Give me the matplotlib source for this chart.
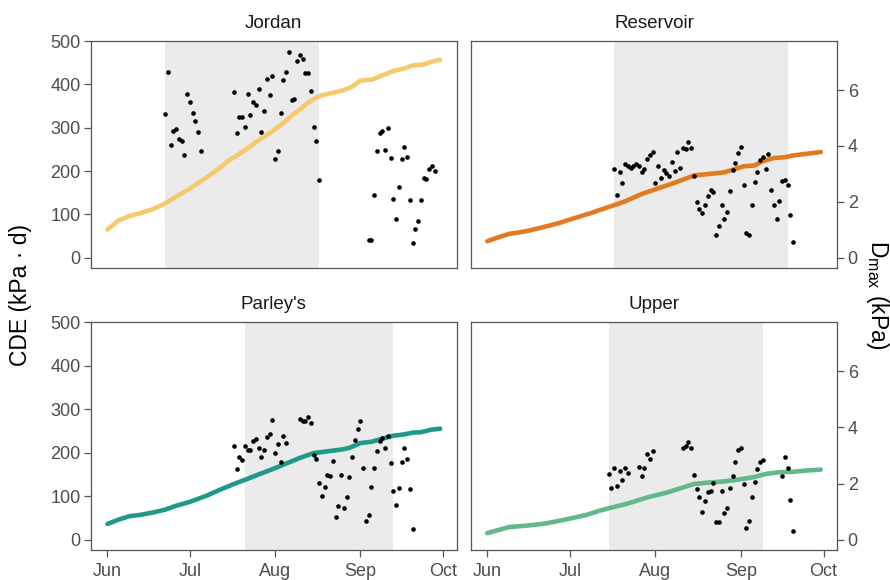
import numpy as np
import matplotlib
matplotlib.use("Agg")
import matplotlib.pyplot as plt
import matplotlib.dates as mdates

plt.rcParams['font.family'] = ['Liberation Sans', 'DejaVu Sans']
plt.rcParams['mathtext.fontset'] = 'custom'
plt.rcParams['mathtext.rm'] = 'Liberation Sans'
plt.rcParams['mathtext.it'] = 'Liberation Sans:italic'

START = np.datetime64('2017-06-01')
SCALE = 64.5  # CDE units per kPa on the secondary axis

sites = ["Jordan", "Reservoir", "Parley's", "Upper"]
line_colors = ["#F5C96C", "#E27A20", "#1E998A", "#62B88A"]

# shaded period (day offsets from Jun 1)
shade_start = [21, 46, 50, 44]
shade_end = [77, 109, 104, 100]

# cumulative CDE lines (day offset, kPa*d)
jordan_line_day = [0, 4, 8, 12, 16, 20, 24, 28, 32, 36, 40, 44, 48, 52, 56, 60, 64, 67, 70, 73, 76, 78, 82, 86, 89, 92, 96, 100, 104, 108, 111, 115, 118, 121]
jordan_line_cde = [65, 86, 96, 103, 111, 122, 137, 152, 168, 185, 203, 224, 240, 257, 276, 292, 311, 328, 342, 358, 370, 375, 381, 387, 395, 409, 411, 421, 431, 437, 444, 446, 453, 457]

reservoir_line_day = [0, 4, 8, 14, 20, 26, 32, 38, 44, 50, 56, 62, 68, 73, 75, 80, 86, 89, 93, 97, 100, 104, 108, 111, 116, 121]
reservoir_line_cde = [38, 47, 55, 61, 70, 80, 92, 104, 117, 130, 147, 160, 173, 185, 190, 193, 197, 203, 211, 213, 223, 230, 232, 236, 240, 244]

parleys_line_day = [0, 4, 8, 12, 17, 21, 25, 30, 36, 41, 46, 51, 55, 60, 65, 70, 75, 80, 85, 88, 92, 96, 100, 104, 108, 111, 114, 118, 121]
parleys_line_cde = [36, 46, 54, 57, 63, 69, 78, 87, 101, 115, 128, 140, 150, 162, 175, 188, 199, 203, 207, 211, 222, 225, 232, 239, 242, 246, 247, 253, 255]

upper_line_day = [0, 4, 8, 14, 21, 29, 36, 41, 44, 51, 58, 65, 72, 75, 80, 86, 90, 93, 97, 101, 106, 111, 116, 121]
upper_line_cde = [15, 22, 29, 32, 37, 47, 57, 67, 72, 83, 97, 108, 122, 128, 131, 134, 137, 140, 144, 151, 155, 156, 159, 161]

# daily maximum VPD points (day offset, kPa)
jordan_pt_day = list(range(21, 35)) + list(range(46, 78)) + list(range(95, 120))
jordan_pt_kpa = [5.13, 6.64, 4.02, 4.55, 4.59, 4.24, 4.19, 3.69, 5.85, 5.59, 5.19, 4.88, 4.51, 3.81,
                 5.92, 4.45, 5.02, 5.02, 4.67, 5.85, 5.10, 5.59, 5.47, 6.05, 4.50, 5.24, 6.39, 5.83, 6.50, 3.55,
                 3.83, 5.19, 6.37, 6.64, 7.37, 5.64, 5.67, 7.05, 7.27, 7.13, 6.60, 6.62, 5.95, 4.68, 4.17, 2.79,
                 0.62, 0.62, 2.23, 3.82, 4.48, 4.53, 3.84, 4.63, 3.56, 2.10, 1.39, 2.53, 3.53, 3.96, 3.61, 2.06,
                 0.53, 1.01, 1.33, 2.06, 2.84, 2.82, 3.17, 3.27, 3.11]

reservoir_pt_day = list(range(46, 112))
reservoir_pt_kpa = [3.18, 2.23, 3.06, 2.66, 3.35, 3.30, 3.21, 3.27, 3.36, 3.29, 3.07, 3.17, 3.54, 3.66, 3.79, 2.69,
                    3.29, 2.85, 3.13, 3.04, 2.92, 3.44, 3.09, 3.78, 3.21, 3.94, 3.89, 4.13, 3.92, 2.91, 1.99, 1.76,
                    1.59, 1.90, 2.22, 2.43, 2.35, 0.83, 1.13, 1.90, 1.40, 1.64, 2.37, 3.13, 3.40, 3.75, 3.95, 2.61,
                    0.89, 0.81, 1.88, 2.71, 3.06, 3.48, 3.61, 3.18, 3.70, 2.44, 1.89, 1.38, 2.04, 2.75, 2.78, 2.61,
                    1.54, 0.57]

parleys_pt_day = list(range(46, 66)) + list(range(70, 112))
parleys_pt_kpa = [3.32, 2.50, 2.96, 2.85, 3.35, 3.21, 3.21, 3.50, 3.59, 3.28, 2.95, 3.21, 3.67, 3.78, 4.28, 3.09,
                  3.42, 2.76, 3.71, 3.46,
                  4.29, 4.24, 4.24, 4.37, 4.14, 3.03, 2.87, 2.02, 1.55, 1.87, 2.32, 2.28, 2.79, 0.81, 1.19, 2.31,
                  1.14, 1.51, 2.22, 2.93, 3.54, 3.96, 4.23, 2.56, 0.66, 0.89, 1.87, 2.57, 3.15, 3.51, 3.63, 3.27,
                  3.71, 2.73, 1.74, 1.23, 1.83, 2.78, 3.26, 2.88, 1.81, 0.38]

upper_pt_day = list(range(44, 52)) + list(range(55, 61)) + list(range(71, 101)) + list(range(107, 112))
upper_pt_kpa = [2.35, 1.84, 2.56, 1.91, 2.44, 2.14, 2.54, 2.39,
                2.58, 2.27, 2.57, 3.06, 2.88, 3.15,
                3.26, 3.32, 3.49, 3.25, 2.31, 1.81, 1.51, 0.98, 1.36, 1.69, 1.75, 2.02, 0.62, 0.62, 1.75,
                0.95, 1.14, 1.83, 2.26, 2.75, 3.20, 3.26, 1.99, 0.42, 0.65, 1.51, 2.04, 2.51, 2.75, 2.84,
                2.28, 2.94, 2.56, 1.42, 0.30]

line_days = [jordan_line_day, reservoir_line_day, parleys_line_day, upper_line_day]
line_vals = [jordan_line_cde, reservoir_line_cde, parleys_line_cde, upper_line_cde]
pt_days = [jordan_pt_day, reservoir_pt_day, parleys_pt_day, upper_pt_day]
pt_vals = [jordan_pt_kpa, reservoir_pt_kpa, parleys_pt_kpa, upper_pt_kpa]

cde_ticks = [0, 100, 200, 300, 400, 500]
kpa_ticks = [0, 2, 4, 6]
month_ticks = ['2017-06-01', '2017-07-01', '2017-08-01', '2017-09-01', '2017-10-01']

YLIM = (-23.8, 501)
XLIM = (START - np.timedelta64(6, 'D'), START + np.timedelta64(127, 'D'))

W, H = 890, 580
fig = plt.figure(figsize=(W / 100, H / 100), dpi=100)

# panel rectangles in pixels: (left, top, right, bottom)
rects = [(91, 40.7, 456.7, 268), (470.7, 40.7, 837.3, 268),
         (91, 321.7, 456.7, 550), (470.7, 321.7, 837.3, 550)]

border = '#555555'
tickc = '#4D4D4D'

def to_dates(days):
    return START + np.array(days, dtype='timedelta64[D]')

for i, site in enumerate(sites):
    l, t, r, b = rects[i]
    ax = fig.add_axes([l / W, 1 - b / H, (r - l) / W, (b - t) / H])
    ax.axvspan(to_dates([shade_start[i]])[0], to_dates([shade_end[i]])[0],
               color='#EBEBEB', lw=0, zorder=0)
    ax.plot(to_dates(line_days[i]), line_vals[i], color=line_colors[i], lw=3.3,
            solid_capstyle='round', zorder=2)
    ax.set_xlim(*XLIM)
    ax.set_ylim(*YLIM)
    ax.set_yticks(cde_ticks)
    ax.xaxis.set_major_locator(mdates.MonthLocator())
    ax.xaxis.set_major_formatter(mdates.DateFormatter('%b'))
    ax.set_xticks([np.datetime64(m) for m in month_ticks])

    ax2 = ax.twinx()
    ax2.scatter(to_dates(pt_days[i]), pt_vals[i], s=11, color='black', lw=0, zorder=3)
    ax2.set_ylim(YLIM[0] / SCALE, YLIM[1] / SCALE)
    ax2.set_yticks(kpa_ticks)
    ax2.set_xlim(*XLIM)

    for a in (ax, ax2):
        a.tick_params(colors=border, labelcolor=tickc, labelsize=13, length=5, width=0.9, pad=2.5)
    for sp in ax.spines.values():
        sp.set_color(border)
        sp.set_linewidth(0.9)
    for sp in ax2.spines.values():
        sp.set_visible(False)

    left_col = i in (0, 2)
    bottom_row = i in (2, 3)
    ax.tick_params(axis='y', left=left_col, labelleft=left_col)
    ax2.tick_params(axis='y', right=not left_col, labelright=not left_col)
    ax.tick_params(axis='x', bottom=bottom_row, labelbottom=bottom_row, pad=4)
    ax2.tick_params(axis='x', bottom=False, labelbottom=False)

    ax.set_title(site, fontsize=13.5, color='#1A1A1A', pad=9)

fig.text(21 / W, 1 - 295 / H, 'CDE (kPa · d)', rotation=90, ha='center', va='center',
         fontsize=16.5, color='black')
fig.text(877 / W, 1 - 295 / H, r'D$_{\mathrm{max}}$ (kPa)', rotation=270, ha='center', va='center',
         fontsize=16.5, color='black')

fig.savefig('out.png', dpi=100)
